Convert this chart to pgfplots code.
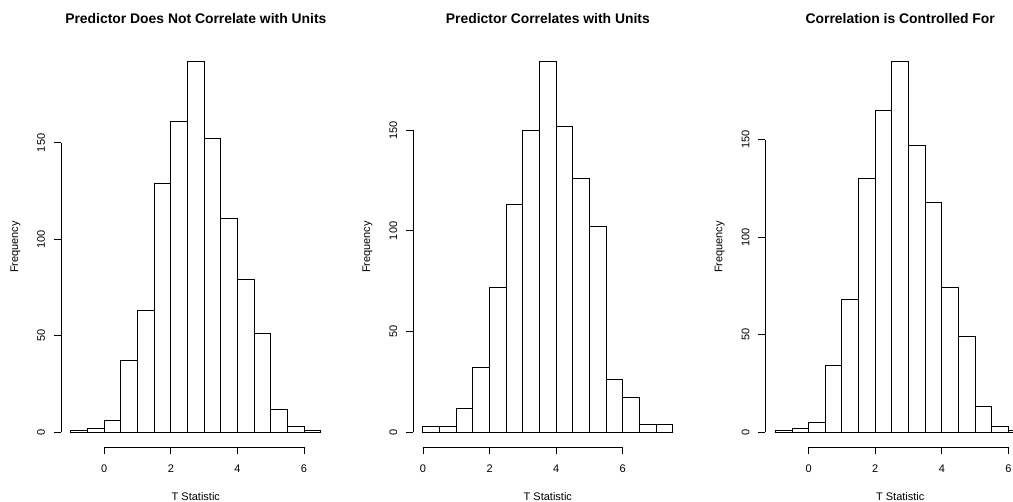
\documentclass[border=0pt]{standalone}
\usepackage{fontspec}
\setmainfont{Liberation Sans}
\usepackage{pgfplots}
\pgfplotsset{compat=1.18}
\pgfplotsset{
  rhist/.style={
    scale only axis, width=269.7bp, height=400bp, anchor=south west,
    clip=false,
    axis x line*=bottom, axis y line*=left,
    axis line style={draw=none},
    tick align=outside, major tick length=7bp,
    tick style={black, line width=0.9bp},
    xtick={0,2,4,6}, ytick={0,50,100,150},
    minor tick num=0,
    /pgf/number format/assume math mode=true,
    ticklabel style={font=\fontsize{11bp}{13bp}\selectfont},
    yticklabel style={rotate=90, anchor=base},
    xticklabel style={anchor=base},
    xticklabel shift=18.3bp,
    yticklabel shift=9bp,
    label style={font=\fontsize{11bp}{13bp}\selectfont},
    xlabel={T Statistic}, ylabel={Frequency},
    xlabel style={at={(axis description cs:0.5,-0.1325)}, anchor=base},
    ylabel style={at={(axis description cs:-0.1594,0.5)}, anchor=base},
    title style={at={(axis description cs:0.5,1.0575)}, anchor=base, yshift=-6pt, font=\bfseries\fontsize{13.9bp}{15bp}\selectfont},
  },
  rbar/.style={ybar interval, fill=white, draw=black, line width=1bp},
}
\begin{document}
\begin{tikzpicture}
\useasboundingbox (0,0) rectangle (1013bp,502bp);
\begin{axis}[rhist, at={(61bp,55bp)}, xmin=-1.3, xmax=6.8, ymin=-7.68, ymax=199.68,
  title={Predictor Does Not Correlate with Units}]
\addplot[rbar] coordinates {(-1,1) (-0.5,2) (0,6) (0.5,37) (1,63) (1.5,129) (2,161) (2.5,192) (3,152) (3.5,111) (4,79) (4.5,51) (5,12) (5.5,3) (6,1) (6.5,0)};
\draw[line width=0.9bp] (axis cs:0,-7.68) -- (axis cs:6,-7.68);
\draw[line width=0.9bp] (axis cs:-1.3,0) -- (axis cs:-1.3,150);
\end{axis}
\begin{axis}[rhist, at={(413bp,55bp)}, xmin=-0.3, xmax=7.8, ymin=-7.36, ymax=191.36,
  title={Predictor Correlates with Units}]
\addplot[rbar] coordinates {(0,3) (0.5,3) (1,12) (1.5,32) (2,72) (2.5,113) (3,150) (3.5,184) (4,152) (4.5,126) (5,102) (5.5,26) (6,17) (6.5,4) (7,4) (7.5,0)};
\draw[line width=0.9bp] (axis cs:0,-7.36) -- (axis cs:6,-7.36);
\draw[line width=0.9bp] (axis cs:-0.3,0) -- (axis cs:-0.3,150);
\end{axis}
\begin{axis}[rhist, at={(765.4bp,55bp)}, xmin=-1.3, xmax=6.8, ymin=-7.6, ymax=197.6,
  title={Correlation is Controlled For}]
\addplot[rbar] coordinates {(-1,1) (-0.5,2) (0,5) (0.5,34) (1,68) (1.5,130) (2,165) (2.5,190) (3,147) (3.5,118) (4,74) (4.5,49) (5,13) (5.5,3) (6,1) (6.5,0)};
\draw[line width=0.9bp] (axis cs:0,-7.6) -- (axis cs:6,-7.6);
\draw[line width=0.9bp] (axis cs:-1.3,0) -- (axis cs:-1.3,150);
\end{axis}
\end{tikzpicture}
\end{document}
